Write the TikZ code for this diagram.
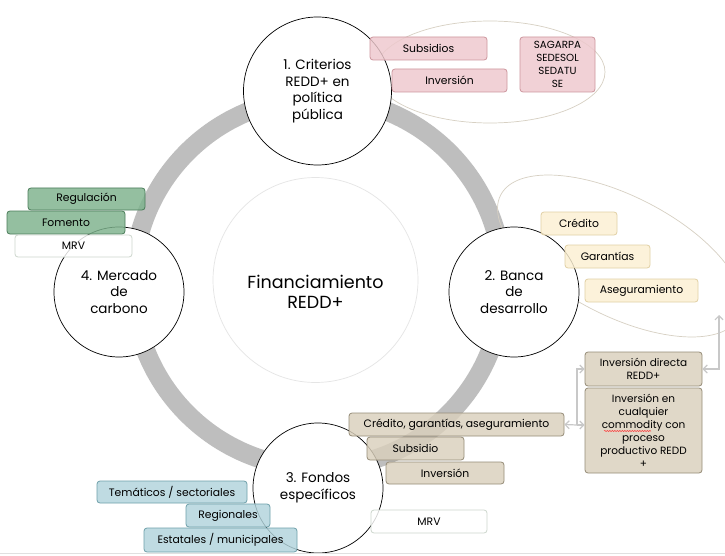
\documentclass[tikz,border=0pt]{standalone}
\usepackage{fontspec}
\setmainfont{Poppins}
\usetikzlibrary{arrows.meta,decorations.pathmorphing}
\definecolor{ringgray}{RGB}{190,190,190}
\definecolor{pinkfill}{RGB}{238,200,205}
\definecolor{pinkdraw}{RGB}{205,150,158}
\definecolor{greenfill}{RGB}{125,178,140}
\definecolor{greendraw}{RGB}{75,125,90}
\definecolor{yelfill}{RGB}{252,240,210}
\definecolor{yeldraw}{RGB}{225,208,165}
\definecolor{tanfill}{RGB}{218,208,188}
\definecolor{tandraw}{RGB}{150,140,120}
\definecolor{bluefill}{RGB}{178,212,220}
\definecolor{bluedraw}{RGB}{110,160,170}
\definecolor{whitedraw}{RGB}{205,215,205}
\definecolor{ellgray}{RGB}{215,208,195}
\definecolor{conngray}{RGB}{200,200,200}
\tikzset{
  bubble/.style={circle, draw=black, line width=0.7pt, fill=white, minimum size=130pt,
    align=center, font=\fontsize{13.5}{16.5}\selectfont, inner sep=0pt},
  tagbox/.style={rounded corners=3pt, line width=0.8pt, align=center,
    font=\fontsize{10.8}{13}\selectfont, fill opacity=0.82, text opacity=1, inner sep=1pt},
  sz/.style 2 args={minimum width=#1pt, minimum height=#2pt},
  pinkbox/.style={tagbox, draw=pinkdraw, fill=pinkfill},
  greenbox/.style={tagbox, draw=greendraw, fill=greenfill},
  whitebox/.style={tagbox, draw=whitedraw, fill=white},
  yelbox/.style={tagbox, draw=yeldraw, fill=yelfill},
  tanbox/.style={tagbox, draw=tandraw, fill=tanfill},
  bluebox/.style={tagbox, draw=bluedraw, fill=bluefill},
  barb/.style={arrows={-Straight Barb[length=4pt,width=8pt]}},
  conn/.style={draw=conngray, line width=1.2pt, barb},
}
\begin{document}
\begin{tikzpicture}[x=1pt,y=-1pt]
\useasboundingbox (0,0) rectangle (725,556);
\fill[white] (0,0) rectangle (725,556);
% ring
\draw[ringgray, line width=19pt] (318,283) circle[radius=185];
% ellipses
\draw[ellgray, line width=0.7pt] (490,72) ellipse[x radius=115, y radius=51];
\draw[ellgray, line width=0.7pt, rotate around={-27:(620,256)}] (620,256) ellipse[x radius=134, y radius=60];
% centre
\node[circle, draw=black!10, line width=0.7pt, fill=white, minimum size=205pt] (fin) at (315.5,280) {};
\node[align=center, font=\fontsize{17.5}{19.5}\selectfont] (fintxt) at (315.5,292) {Financiamiento\\REDD+};
% bubbles
\node[bubble, minimum size=148pt] (c1) at (317.5,91) {1. Criterios\\REDD+ en\\política\\pública};
\node[bubble] (c2) at (514,292) {2. Banca\\de\\desarrollo};
\node[bubble] (c3) at (318,488) {3. Fondos\\específicos};
\node[bubble] (c4) at (119,292) {4. Mercado\\de\\carbono};
% pink
\node[pinkbox, sz={117}{23}] (sub) at (428.5,48.5) {Subsidios};
\node[pinkbox, sz={115}{23}] (inv1) at (449.5,80.5) {Inversión};
\node[pinkbox, sz={75}{55}, font=\fontsize{10.3}{13.2}\selectfont] (sag) at (557.5,64.5) {SAGARPA\\SEDESOL\\SEDATU\\SE};
% green
\node[greenbox, sz={117}{22}] (reg) at (86.5,199) {Regulación};
\node[greenbox, sz={118}{23}] (fom) at (66,222.5) {Fomento};
\node[whitebox, sz={117}{22}] (mrv1) at (73.5,246) {MRV};
% yellow
\node[yelbox, sz={76}{23}] (cred) at (579,223.5) {Crédito};
\node[yelbox, sz={85}{23}] (gar) at (607.5,256.5) {Garantías};
\node[yelbox, sz={113}{23}] (ase) at (641.5,290.5) {Aseguramiento};
% tan
\node[tanbox, sz={117}{34}, font=\fontsize{10.5}{12.5}\selectfont] (idr) at (643.5,369) {Inversión directa\\REDD+};
\node[tanbox, sz={117}{85}, font=\fontsize{10.5}{13}\selectfont] (com) at (643.5,430.5) {Inversión en\\cualquier\\commodity con\\proceso\\productivo REDD\\+};
\node[tanbox, sz={215}{23}] (cga) at (456.5,424.5) {Crédito, garantías, aseguramiento};
\node[tanbox, sz={97}{23}] (subs) at (415.5,448.5) {Subsidio};
\node[tanbox, sz={118}{22}] (inv2) at (445,473) {Inversión};
\node[whitebox, sz={116}{23}] (mrv2) at (429,521.5) {MRV};
% blue
\node[bluebox, sz={150}{22}] (tem) at (172,492) {Temáticos / sectoriales};
\node[bluebox, sz={84}{23}] (regi) at (228,515.5) {Regionales};
\node[bluebox, sz={153}{24}] (est) at (220.5,540) {Estatales / municipales};
% squiggle under commodity
\draw[red!80, line width=0.5pt, decorate, decoration={snake, amplitude=0.6pt, segment length=2.5pt}]
  (604,431) -- (651,431);
% connectors
\coordinate (j) at (577,425);
\draw[conn] (j) -- (cga.east);
\draw[conn] (j) |- (idr.west);
\draw[conn] (j) -- (com.west |- j);
\coordinate (e) at (719,315);
\draw[conn, arrows={Straight Barb[length=4pt,width=8pt]-Straight Barb[length=4pt,width=8pt]}] (e) |- (idr.east);
% bottom rule
\draw[black!12, line width=0.8pt] (0,553.5) -- (725,553.5);
\end{tikzpicture}
\end{document}
